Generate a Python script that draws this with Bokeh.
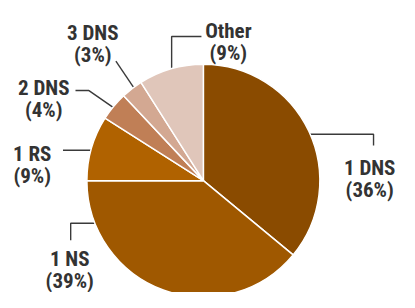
import math
from bokeh.plotting import figure
from bokeh.models import ColumnDataSource
from bokeh.core.properties import value
from bokeh.embed import file_html
from bokeh.resources import INLINE

# ---- data ----
categories = ["1 DNS", "1 NS", "1 RS", "2 DNS", "3 DNS", "Other"]
shares = [36, 39, 9, 4, 3, 9]
colors = ["#8a4b00", "#9f5800", "#b06200", "#c07f56", "#d3a892", "#e0c6ba"]

# ---- layout (reference pixel coords, 415x308 design space) ----
W, H = 399, 292
REF_W, REF_H = 415, 308
SX, SY = W / REF_W, H / REF_H
CENTER_REF = (211, 190)
RADIUS_REF = 122
FONT = "Roboto Condensed, Roboto"
FONT_SIZE = "21px"
TEXT_COLOR = "#333333"

leader_paths = {
    "1 DNS": [(318, 141), (388, 141), (388, 153)],
    "1 NS": [(100, 235), (73, 235), (73, 253)],
    "1 RS": [(96, 158), (65, 158)],
    "2 DNS": [(119, 114), (92, 95), (78, 95)],
    "3 DNS": [(140, 94), (120, 64)],
    "Other": [(178, 75), (178, 38), (209, 38)],
}
label_pos = {  # center x, baseline of first line, baseline of second line
    "1 DNS": (384, 177, 200),
    "1 NS": (72, 273, 296),
    "1 RS": (33, 162, 185),
    "2 DNS": (45, 92, 115),
    "3 DNS": (96, 34, 57),
    "Other": (237, 32, 55),
}


def fx(x):
    return x * SX


def fy(y):
    return H - y * SY


p = figure(width=W, height=H, x_range=(0, W), y_range=(0, H),
           output_backend="svg", toolbar_location=None, min_border=0)
p.axis.visible = False
p.grid.visible = False
p.outline_line_color = None
p.background_fill_color = "white"
p.border_fill_color = "white"

# leaders first (under the pie)
for cat in categories:
    pts = leader_paths[cat]
    p.line([fx(a) for a, b in pts], [fy(b) for a, b in pts],
           line_color="#3a3a3a", line_width=1.4)

# wedges
total = sum(shares)
starts, ends = [], []
cum = 0.0
for s in shares:
    starts.append(math.pi / 2 - 2 * math.pi * cum / total)
    cum += s
    ends.append(math.pi / 2 - 2 * math.pi * cum / total)

cx, cy = fx(CENTER_REF[0]), fy(CENTER_REF[1])
radius = RADIUS_REF * (SX + SY) / 2
src = ColumnDataSource(dict(start=starts, end=ends, color=colors, cat=categories))
p.wedge(x=cx, y=cy, radius=radius, start_angle="start", end_angle="end",
        direction="clock", fill_color="color", line_color="white", line_width=1.5,
        source=src)

# labels
lx, ly1, ly2, t1, t2 = [], [], [], [], []
for cat, s in zip(categories, shares):
    x, b1, b2 = label_pos[cat]
    lx.append(fx(x))
    ly1.append(fy(b1))
    ly2.append(fy(b2))
    t1.append(cat)
    t2.append(f"({s}%)")

lsrc = ColumnDataSource(dict(x=lx, y1=ly1, y2=ly2, t1=t1, t2=t2))
for ycol, tcol in (("y1", "t1"), ("y2", "t2")):
    p.text(x="x", y=ycol, text=tcol, source=lsrc, text_align="center",
           text_baseline="alphabetic", text_font=value(FONT),
           text_font_size=FONT_SIZE, text_font_style="bold",
           text_color=TEXT_COLOR)

open("out.html", "w").write(file_html(p, INLINE))
